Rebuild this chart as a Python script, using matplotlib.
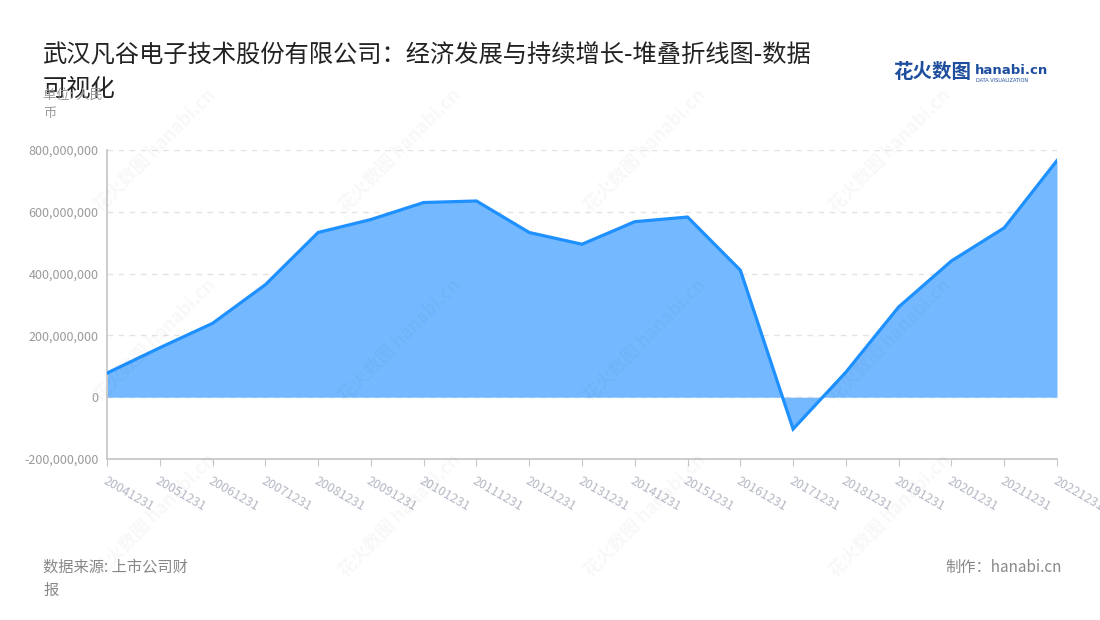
import matplotlib
matplotlib.use("Agg")
import matplotlib.pyplot as plt
from matplotlib.ticker import FuncFormatter, MultipleLocator

plt.rcParams['font.family'] = ['Noto Sans CJK SC', 'DejaVu Sans']

dates = ["20041231", "20051231", "20061231", "20071231", "20081231", "20091231",
         "20101231", "20111231", "20121231", "20131231", "20141231", "20151231",
         "20161231", "20171231", "20181231", "20191231", "20201231", "20211231",
         "20221231"]
values = [78e6, 160e6, 239e6, 364e6, 533e6, 575e6,
          630e6, 635e6, 533e6, 495e6, 568e6, 583e6,
          411e6, -103e6, 81e6, 292e6, 441e6, 548e6,
          766e6]

title = "武汉凡谷电子技术股份有限公司：经济发展与持续增长-堆叠折线图-数据\n可视化"
unit = "单位: 人民\n币"
source = "数据来源: 上市公司财\n报"
maker = "制作：hanabi.cn"

fig = plt.figure(figsize=(11, 6.2), dpi=100)
ax = fig.add_axes([107/1100, 1 - 459/620, (1057-107)/1100, (459-150)/620])

x = list(range(len(dates)))
ax.fill_between(x, values, 0, color="#74b9ff", linewidth=0, zorder=2)
ax.plot(x, values, color="#1e90ff", linewidth=2.3, zorder=3, solid_joinstyle="miter")

ax.set_xlim(0, len(dates) - 1)
ax.set_ylim(-200e6, 800e6)
ax.yaxis.set_major_locator(MultipleLocator(200e6))
ax.yaxis.set_major_formatter(FuncFormatter(lambda v, p: f"{int(round(v)):,}"))
ax.grid(axis="y", color="#e3e3e3", linestyle=(0, (4, 4)), linewidth=1)
ax.set_axisbelow(True)

for s in ["top", "right"]:
    ax.spines[s].set_visible(False)
ax.spines["left"].set_color("#c8c8c8")
ax.spines["bottom"].set_color("#c8c8c8")
ax.spines["left"].set_linewidth(1.3)
ax.spines["bottom"].set_linewidth(1.3)

ax.set_xticks(x)
ax.set_xticklabels(dates, rotation=-30, ha="left", va="top", rotation_mode="anchor",
                   fontsize=9, color="#b4b8c4")
ax.tick_params(axis="x", length=5, color="#c8c8c8", pad=6)
ax.tick_params(axis="y", length=0, labelsize=9, labelcolor="#9a9a9a", pad=6)

# watermark
for wx in [155, 400, 645, 890]:
    for wy in [150, 340, 515]:
        fig.text(wx/1100, 1 - wy/620, "花火数图 hanabi.cn", rotation=45, fontsize=13,
                 color="#000000", alpha=0.03, ha="center", va="center", fontweight="bold")

fig.text(43/1100, 1 - 42/620, title, fontsize=17.5, color="#222222", ha="left", va="top",
         linespacing=1.4)
fig.text(43/1100, 1 - 89/620, unit, fontsize=9.5, color="#9a9a9a", ha="left", va="top",
         linespacing=1.45)
fig.text(43/1100, 1 - 559/620, source, fontsize=11, color="#888888", ha="left", va="top",
         linespacing=1.45)
fig.text(1062/1100, 1 - 559/620, maker, fontsize=11, color="#888888", ha="right", va="top")

# logo
fig.text(893/1100, 1 - 73/620, "花火数图", fontsize=14, color="#1f4e9e", ha="left",
         va="center", fontweight="bold")
fig.text(975/1100, 1 - 70/620, "hanabi.cn", fontsize=9.5, color="#1f4e9e", ha="left",
         va="center", fontweight="bold", family=["DejaVu Sans"])
fig.text(976/1100, 1 - 80/620, "DATA VISUALIZATION", fontsize=3.6, color="#1f4e9e",
         ha="left", va="center", family=["DejaVu Sans"])

fig.savefig("out.png", dpi=100)
